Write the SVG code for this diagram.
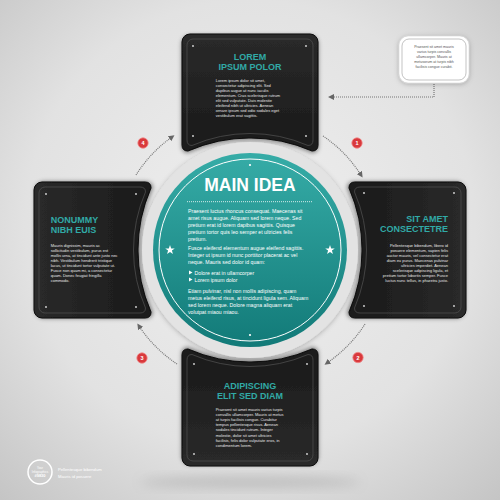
<svg xmlns="http://www.w3.org/2000/svg" width="500" height="500" viewBox="0 0 500 500">
<defs>
<radialGradient id="bg" cx="50%" cy="45%" r="75%">
<stop offset="0" stop-color="#efefef"/><stop offset="0.6" stop-color="#e2e2e2"/><stop offset="1" stop-color="#c4c4c4"/>
</radialGradient>
<linearGradient id="cardg" x1="0" y1="0" x2="0" y2="1">
<stop offset="0" stop-color="#2a2a2a"/><stop offset="1" stop-color="#1a1a1a"/>
</linearGradient>
<linearGradient id="teal" x1="0" y1="0" x2="0" y2="1">
<stop offset="0" stop-color="#36aca7"/><stop offset="1" stop-color="#127a78"/>
</linearGradient>
<filter id="sh" x="-20%" y="-20%" width="140%" height="140%">
<feDropShadow dx="0" dy="1.5" stdDeviation="2" flood-color="#000" flood-opacity="0.45"/>
</filter>
<filter id="sh2" x="-20%" y="-20%" width="140%" height="140%">
<feDropShadow dx="0" dy="1" stdDeviation="2.5" flood-color="#000" flood-opacity="0.25"/>
</filter>
<filter id="blur" x="-50%" y="-50%" width="200%" height="200%"><feGaussianBlur stdDeviation="6"/></filter>
<path id="cardOuter" d="M190,34 H310 A8,8 0 0 1 318,42 V145 Q318,151 312,151 A154,154 0 0 0 188,151 Q182,151 182,145 V42 A8,8 0 0 1 190,34 Z"/>
<path id="cardInner" d="M193,39 H307 A6,6 0 0 1 313,45 V140 Q313,145.5 308,145.5 A146,146 0 0 0 192,145.5 Q187,145.5 187,140 V45 A6,6 0 0 1 193,39 Z"/>
<g id="card">
<use href="#cardOuter" fill="url(#cardg)" stroke="#0d0d0d" stroke-width="1" filter="url(#sh)"/>
<use href="#cardInner" fill="none" stroke="#4d4d4d" stroke-width="0.8"/>
<circle cx="193" cy="46" r="0.9" fill="#ddd"/><circle cx="306" cy="46" r="0.9" fill="#ddd"/>
<circle cx="193" cy="136" r="0.9" fill="#ddd"/><circle cx="306" cy="136" r="0.9" fill="#ddd"/>
</g>
<marker id="ah" viewBox="0 0 6 6" refX="3" refY="3" markerWidth="6" markerHeight="6" markerUnits="userSpaceOnUse" orient="auto">
<path d="M0,0 L6,3 L0,6 Z" fill="#666"/>
</marker>
<polygon id="star" points="0,-5 1.18,-1.62 4.76,-1.55 1.9,0.62 2.94,4.05 0,2 -2.94,4.05 -1.9,0.62 -4.76,-1.55 -1.18,-1.62" fill="#fff"/>
</defs>
<style>
.t{font-family:"Liberation Sans",Arial,sans-serif;font-weight:bold;font-size:9px;fill:#31aaa6}
.b{font-family:"Liberation Sans",Arial,sans-serif;font-size:4px;fill:#e6e6e6}
.c{font-family:"Liberation Sans",Arial,sans-serif;font-size:5.2px;fill:#fff}
.bx{font-family:"Liberation Sans",Arial,sans-serif;font-size:3.6px;fill:#555}
.con{fill:none;stroke:#777;stroke-width:1.2;stroke-dasharray:1 1}
.badge{fill:#d9393c;stroke:#f08a8a;stroke-width:0.8}
.bn{font-family:"Liberation Sans",Arial,sans-serif;font-weight:bold;font-size:5.5px;fill:#fff;text-anchor:middle}
</style>
<rect width="500" height="500" fill="url(#bg)"/>
<ellipse cx="250" cy="482" rx="110" ry="6" fill="#888" opacity="0.35" filter="url(#blur)"/>

<!-- connectors -->
<g id="connectors">
<path class="con" d="M323,136 A135,135 0 0 1 361,175" marker-end="url(#ah)"/>
<path class="con" d="M365,324 A135,135 0 0 1 327,363" marker-end="url(#ah)"/>
<path class="con" d="M177,364 A135,135 0 0 1 139,326" marker-end="url(#ah)"/>
<path class="con" d="M136,175 A135,135 0 0 1 172,137" marker-end="url(#ah)"/>
<path class="con" d="M434,84 V97 H331" marker-end="url(#ah)"/>
<circle class="badge" cx="357" cy="143" r="5.2"/><text class="bn" x="357" y="145">1</text>
<circle class="badge" cx="358" cy="357.5" r="5.2"/><text class="bn" x="358" y="359.5">2</text>
<circle class="badge" cx="142" cy="358" r="5.2"/><text class="bn" x="142" y="360">3</text>
<circle class="badge" cx="143" cy="143" r="5.2"/><text class="bn" x="143" y="145">4</text>
</g>

<!-- cards -->
<g id="card-top">
<use href="#card"/>
<text class="t" text-anchor="middle"><tspan x="250" y="59.5">LOREM</tspan><tspan x="250" y="69.5">IPSUM POLOR</tspan></text>
<text class="b"><tspan x="215.7" y="81.5">Lorem ipsum dolor sit amet,</tspan><tspan x="215.7" y="86.6">consectetur adipiscing elit. Sed</tspan><tspan x="215.7" y="91.7">dapibus augue at nunc iaculis</tspan><tspan x="215.7" y="96.8">elementum. Cras scelerisque rutrum</tspan><tspan x="215.7" y="101.9">elit sed vulputate. Duis molestie</tspan><tspan x="215.7" y="107">eleifend nibh ut ultricies. Aenean</tspan><tspan x="215.7" y="112.1">ornare ipsum sed odio sodales eget</tspan><tspan x="215.7" y="117.2">vestibulum erat sagittis.</tspan></text>
</g>
<g id="card-right">
<use href="#card" transform="rotate(90 250 250)"/>
<text class="t" text-anchor="end"><tspan x="448" y="222">SIT AMET</tspan><tspan x="448" y="232">CONSECTETRE</tspan></text>
<text class="b" text-anchor="end"><tspan x="448" y="246.5">Pellentesque bibendum, libero id</tspan><tspan x="448" y="251.6">posuere elementum, sapien felis</tspan><tspan x="448" y="256.7">auctor mauris, vel consectetur erat</tspan><tspan x="448" y="261.8">diam eu purus. Maecenas pulvinar</tspan><tspan x="448" y="266.9">ultricies imperdiet. Aenean</tspan><tspan x="448" y="272">scelerisque adipiscing ligula, et</tspan><tspan x="448" y="277.1">pretium tortor lobortis semper. Fusce</tspan><tspan x="448" y="282.2">luctus nunc tellus, in pharetra justo.</tspan></text>
</g>
<g id="card-bottom">
<use href="#card" transform="rotate(180 250 250)"/>
<text class="t" text-anchor="middle"><tspan x="250" y="388.5">ADIPISCING</tspan><tspan x="250" y="398.5">ELIT SED DIAM</tspan></text>
<text class="b"><tspan x="215.7" y="411">Praesent sit amet mauris varius turpis</tspan><tspan x="215.7" y="416.1">convallis ullamcorper. Mauris at metus</tspan><tspan x="215.7" y="421.2">at turpis facilisis congue. Curabitur</tspan><tspan x="215.7" y="426.3">tempus pellentesque risus. Aenean</tspan><tspan x="215.7" y="431.4">sodales tincidunt rutrum. Integer</tspan><tspan x="215.7" y="436.5">molestie, dolor sit amet ultricies</tspan><tspan x="215.7" y="441.6">facilisis, felis dolor vulputate eros, in</tspan><tspan x="215.7" y="446.7">condimentum lorem.</tspan></text>
</g>
<g id="card-left">
<use href="#card" transform="rotate(270 250 250)"/>
<text class="t"><tspan x="50.7" y="223">NONUMMY</tspan><tspan x="50.7" y="233">NIBH EUIS</tspan></text>
<text class="b"><tspan x="50.7" y="246.5">Mauris dignissim, mauris ac</tspan><tspan x="50.7" y="251.6">sollicitudin vestibulum, purus est</tspan><tspan x="50.7" y="256.7">mollis urna, at tincidunt ante justo nec</tspan><tspan x="50.7" y="261.8">nibh. Vestibulum hendrerit tristique</tspan><tspan x="50.7" y="266.9">lacus, ut tincidunt tortor vulputate ut.</tspan><tspan x="50.7" y="272">Fusce non quam mi, a consectetur</tspan><tspan x="50.7" y="277.1">quam. Donec feugiat fringilla</tspan><tspan x="50.7" y="282.2">commodo.</tspan></text>
</g>

<!-- main idea -->
<g id="main-idea">
<circle cx="250" cy="250" r="108" fill="#e3e3e3" filter="url(#sh2)"/>
<circle cx="250" cy="250" r="97" fill="url(#teal)"/>
<circle cx="250" cy="250" r="91" fill="none" stroke="#fff" stroke-width="1"/>
<circle cx="250" cy="165" r="1.1" fill="#fff"/>
<circle cx="250" cy="335" r="1.1" fill="#fff"/>
<text x="250" y="190.7" text-anchor="middle" style="font-family:'Liberation Sans',Arial,sans-serif;font-weight:bold;font-size:17.5px;fill:#fff">MAIN IDEA</text>
<line x1="187" y1="201.7" x2="313" y2="201.7" stroke="#fff" stroke-width="0.9" stroke-dasharray="0.9 1.1"/>
<use href="#star" x="170" y="250"/>
<use href="#star" x="330" y="250"/>
<text class="c"><tspan x="188" y="213">Praesent luctus rhoncus consequat. Maecenas sit</tspan><tspan x="188" y="220">amet risus augue. Aliquam sed lorem neque. Sed</tspan><tspan x="188" y="227">pretium erat id lorem dapibus sagittis. Quisque</tspan><tspan x="188" y="234">pretium tortor quis leo semper et ultricies felis</tspan><tspan x="188" y="241">pretium.</tspan></text>
<text class="c"><tspan x="188" y="249.5">Fusce eleifend elementum augue eleifend sagittis.</tspan><tspan x="188" y="256.5">Integer ut ipsum id nunc porttitor placerat ac vel</tspan><tspan x="188" y="263.5">neque. Mauris sed dolor id quam:</tspan></text>
<path d="M189,270.5 L192.5,272.5 L189,274.5 Z M189,277.5 L192.5,279.5 L189,281.5 Z" fill="#fff"/>
<text class="c"><tspan x="194.5" y="274.5">Dolore erat in ullamcorper</tspan><tspan x="194.5" y="281.5">Lorem ipsum dolor</tspan></text>
<text class="c"><tspan x="188" y="292.5">Etiam pulvinar, nisl non mollis adipiscing, quam</tspan><tspan x="188" y="299.5">metus eleifend risus, at tincidunt ligula sem. Aliquam</tspan><tspan x="188" y="306.5">sed lorem neque. Dolore magna aliquam erat</tspan><tspan x="188" y="313.5">volutpat miaou miaou.</tspan></text>
</g>

<!-- note box -->
<g id="note">
<rect x="399" y="36" width="70" height="47" rx="9" fill="#fff" stroke="#cfcfcf" stroke-width="0.5" filter="url(#sh2)"/>
<rect x="402" y="39" width="64" height="41" rx="7" fill="none" stroke="#9a9a9a" stroke-width="0.6"/>
<text class="bx" text-anchor="middle"><tspan x="434" y="48">Praesent sit amet mauris</tspan><tspan x="434" y="53">varius turpis convallis</tspan><tspan x="434" y="58">ullamcorper. Mauris at</tspan><tspan x="434" y="63">metusorum at turpis nibh</tspan><tspan x="434" y="68">facilisis congue curabit.</tspan></text>
</g>

<!-- logo -->
<g id="logo">
<circle cx="40" cy="472" r="12" fill="none" stroke="#fff" stroke-width="1.5"/>
<text style="font-family:'Liberation Sans',Arial,sans-serif;font-size:3px;fill:#fff" text-anchor="middle"><tspan x="40" y="469">Your</tspan><tspan x="40" y="472.5">Infographics</tspan><tspan x="40" y="477" font-weight="bold" font-size="4">#9830</tspan></text>
<text style="font-family:'Liberation Sans',Arial,sans-serif;font-size:4.2px;fill:#fff"><tspan x="58" y="471">Pellentesque bibendum</tspan><tspan x="58" y="478">Mauris id posuere</tspan></text>
</g>
</svg>
